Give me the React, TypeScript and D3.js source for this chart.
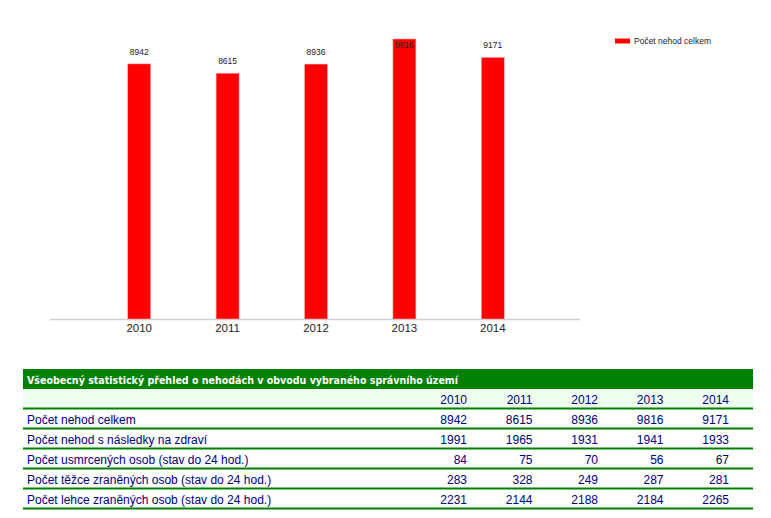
import React from 'react';
import * as d3 from 'd3';

const years = ['2010', '2011', '2012', '2013', '2014'];
const totalAccidents = [8942, 8615, 8936, 9816, 9171];
const healthAccidents = [1991, 1965, 1931, 1941, 1933];
const killed = [84, 75, 70, 56, 67];
const severelyInjured = [283, 328, 249, 287, 281];
const lightlyInjured = [2231, 2144, 2188, 2184, 2265];
const rowLabels = [
  'Počet nehod celkem',
  'Počet nehod s následky na zdraví',
  'Počet usmrcených osob (stav do 24 hod.)',
  'Počet těžce zraněných osob (stav do 24 hod.)',
  'Počet lehce zraněných osob (stav do 24 hod.)',
];
const seriesName = 'Počet nehod celkem';
const tableTitle = 'Všeobecný statistický přehled o nehodách v obvodu vybraného správního území';

const W = 771;
const H = 518;

export default function App() {
  const x = d3.scaleBand<string>().domain(years).range([95, 537]).padding(0);
  const y = d3.scaleLinear().domain([0, 10000]).range([319, 33.7]);
  const barW = 23;
  const green = '#008000';
  const navy = '#000080';
  const tableRows = [totalAccidents, healthAccidents, killed, severelyInjured, lightlyInjured];
  const colX = d3.scalePoint<string>().domain(years).range([467, 729]);
  const tLeft = 23;
  const tRight = 753;
  const headerTop = 369;
  const yearRowTop = 389;
  const rowH = 20;
  const firstRowTop = 409;

  return (
    <svg width={W} height={H} style={{ position: 'absolute', left: 0, top: 0 }}
      fontFamily="'Liberation Sans', Arial, sans-serif">
      <rect x={0} y={0} width={W} height={H} fill="#fff" />
      {/* axis line */}
      <line x1={50} x2={580} y1={319.5} y2={319.5} stroke="#d0d0d0" strokeWidth={1.5} />
      {years.map((yr, i) => {
        const cx = (x(yr) as number) + x.bandwidth() / 2;
        const top = y(totalAccidents[i]);
        const labelY = Math.max(top - 9, 48);
        return (
          <g key={yr}>
            <rect x={cx - barW / 2} y={top} width={barW} height={y(0) - top} fill="#ff0000"
              stroke="#ffb3b3" strokeWidth={0.6} />
            <text x={cx} y={labelY} textAnchor="middle" fontSize={8.5} fill="#222">{totalAccidents[i]}</text>
            <text x={cx} y={332} textAnchor="middle" fontSize={11.5} fill="#222">{yr}</text>
          </g>
        );
      })}
      {/* legend */}
      <rect x={615} y={38.5} width={15} height={5} fill="#ff0000" />
      <text x={634} y={44} fontSize={8.5} fill="#222">{seriesName}</text>

      {/* table */}
      <rect x={tLeft} y={headerTop} width={tRight - tLeft} height={yearRowTop - headerTop} fill={green} />
      <text x={27} y={384} fontSize={11} fontWeight="bold" fill="#fff"
        fontFamily="'DejaVu Sans Condensed', 'DejaVu Sans', sans-serif"
        textLength={431} lengthAdjust="spacingAndGlyphs">{tableTitle}</text>
      <rect x={tLeft} y={yearRowTop} width={tRight - tLeft} height={firstRowTop - yearRowTop - 1} fill="#efffef" />
      <line x1={tLeft} x2={tRight} y1={firstRowTop - 0.5} y2={firstRowTop - 0.5} stroke={green} strokeWidth={2} />
      {years.map((yr) => (
        <text key={yr} x={colX(yr)} y={404} textAnchor="end" fontSize={12} fill={navy}>{yr}</text>
      ))}
      {tableRows.map((row, r) => {
        const top = firstRowTop + r * rowH;
        return (
          <g key={r}>
            <text x={27} y={top + 15} fontSize={12} fill={navy}>{rowLabels[r]}</text>
            {row.map((v, i) => (
              <text key={i} x={colX(years[i])} y={top + 15} textAnchor="end" fontSize={12} fill={navy}>{v}</text>
            ))}
            <line x1={tLeft} x2={tRight} y1={top + rowH - 0.5} y2={top + rowH - 0.5} stroke={green} strokeWidth={2} />
          </g>
        );
      })}
    </svg>
  );
}
